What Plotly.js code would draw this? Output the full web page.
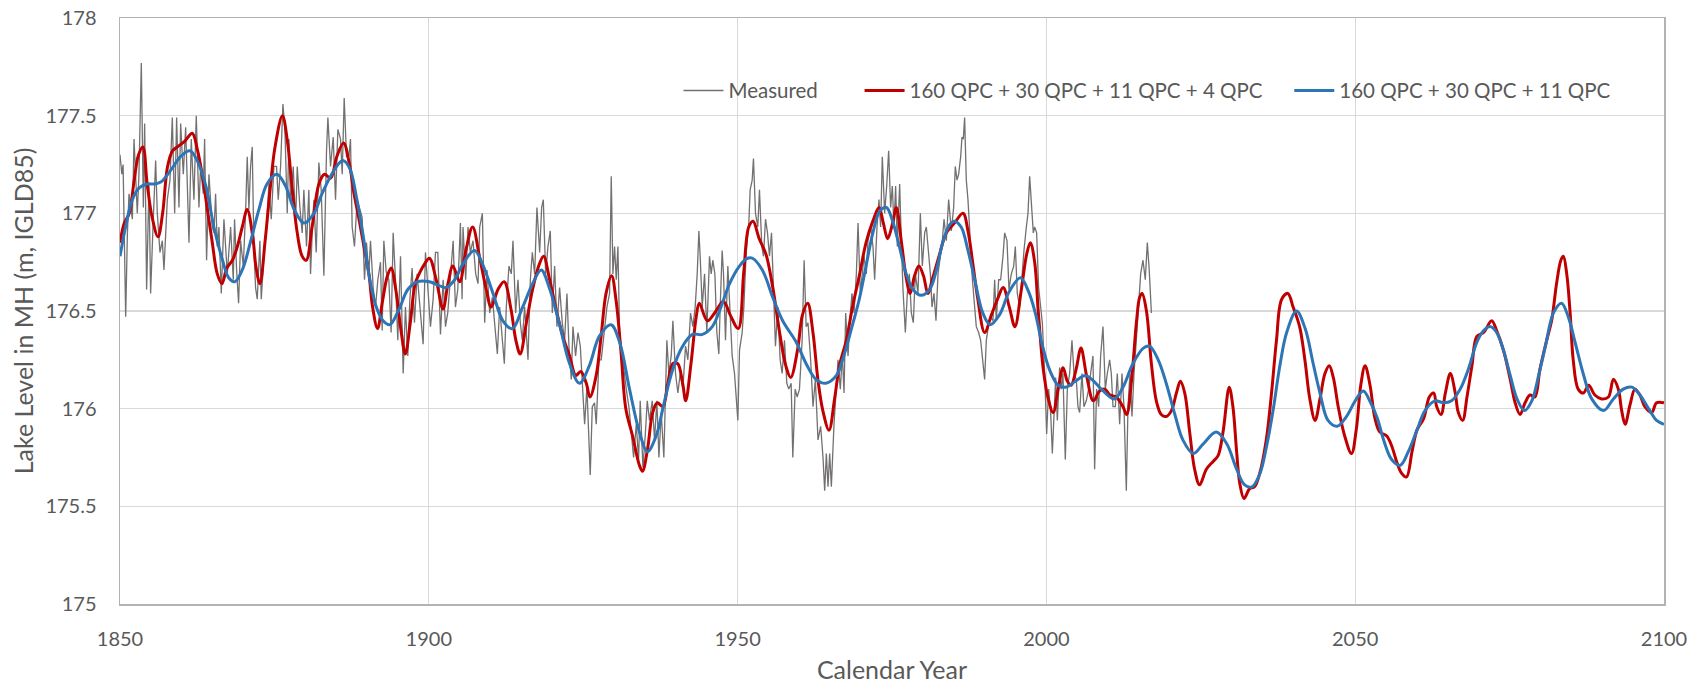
<!DOCTYPE html>
<html>
<head>
<meta charset="utf-8">
<script src="https://cdn.plot.ly/plotly-3.0.1.min.js"></script>
<style>html,body{margin:0;padding:0;background:#fff;}#chart{width:1704px;height:688px;}</style>
</head>
<body>
<div id="chart"></div>
<script>
// ---- Measured lake level (year, m IGLD85) ----
const measured1850 = [[1850.0,177.3],[1850.3,177.2],[1850.5,177.25],[1850.76,176.66],[1850.92,176.47],[1851.2,176.9],[1851.46,177.1],[1852.0,176.97],[1852.27,177.38],[1852.8,177.0],[1853.07,177.2],[1853.45,177.77],[1853.78,177.03],[1853.99,177.46],[1854.31,176.61],[1854.69,177.15],[1854.96,176.59],[1855.34,176.93],[1855.77,177.27],[1856.04,177.0],[1856.47,176.8],[1856.85,176.86],[1857.12,176.71],[1857.66,177.07],[1858.09,177.17],[1858.47,177.49],[1858.85,177.0],[1859.17,177.49],[1859.55,177.03],[1859.82,177.46],[1860.25,177.2],[1860.63,177.44],[1860.9,177.14],[1861.17,176.85],[1861.54,177.38],[1861.97,177.07],[1862.35,177.5],[1862.78,177.03],[1863.05,177.24],[1863.48,177.1],[1863.7,177.38],[1864.02,176.76],[1864.4,177.2],[1864.94,176.93],[1865.21,176.9],[1865.48,177.1],[1865.75,176.83],[1866.02,176.93],[1866.4,176.59],[1866.83,176.97],[1867.37,176.69],[1867.91,176.93],[1868.34,176.66],[1868.55,176.97],[1868.88,176.71],[1869.2,176.54],[1869.53,176.86],[1869.96,176.73],[1870.33,177.0],[1870.6,177.29],[1870.87,177.02],[1871.14,177.24],[1871.41,177.34],[1871.68,176.83],[1871.95,176.62],[1872.22,176.56],[1872.65,176.86],[1872.87,176.56],[1873.3,176.78],[1873.73,176.93],[1874.11,177.15],[1874.49,176.97],[1874.92,177.24],[1875.35,177.24],[1875.62,177.07],[1876.0,177.24],[1876.38,177.56],[1876.7,177.43],[1877.08,177.0],[1877.35,177.38],[1877.62,177.05],[1878.05,177.24],[1878.43,176.95],[1878.7,177.24],[1879.13,177.03],[1879.5,176.9],[1879.77,177.12],[1880.2,176.83],[1880.58,177.12],[1880.85,176.69],[1881.12,176.9],[1881.39,177.07],[1881.77,176.8],[1882.2,177.26],[1882.58,177.12],[1883.01,176.68],[1883.44,177.32],[1883.66,177.49],[1884.09,177.24],[1884.52,177.39],[1884.9,177.07],[1885.28,177.43],[1885.71,177.38],[1885.98,177.2],[1886.3,177.59],[1886.68,177.29],[1887.06,177.29],[1887.32,177.38],[1887.59,176.93],[1887.97,176.83],[1888.4,177.07],[1888.83,177.02],[1889.21,176.98],[1889.59,176.66],[1889.91,176.85],[1890.29,176.69],[1890.56,176.86],[1890.99,176.62],[1891.37,176.52],[1891.75,176.66],[1892.18,176.75],[1892.45,176.4],[1892.72,176.86],[1893.1,176.7],[1893.53,176.66],[1893.9,176.39],[1894.23,176.9],[1894.61,176.66],[1894.98,176.35],[1895.42,176.78],[1895.85,176.18],[1896.22,176.52],[1896.6,176.27],[1896.93,176.56],[1897.3,176.72],[1897.68,176.44],[1898.11,176.69],[1898.65,176.49],[1899.08,176.33],[1899.46,176.8],[1900.0,176.52],[1900.27,176.42],[1900.7,176.56],[1901.08,176.8],[1901.46,176.8],[1901.89,176.38],[1902.32,176.66],[1902.7,176.42],[1903.07,176.49],[1903.5,176.69],[1903.94,176.86],[1904.31,176.52],[1904.69,176.61],[1905.12,176.95],[1905.39,176.56]];
const measured1905 = [[1905.54,176.93],[1905.97,176.66],[1906.35,176.93],[1906.73,176.8],[1907.16,176.86],[1907.59,176.69],[1907.97,176.64],[1908.24,176.93],[1908.67,177.0],[1909.05,176.44],[1909.42,176.71],[1909.86,176.49],[1910.29,176.57],[1910.66,176.45],[1911.1,176.28],[1911.47,176.52],[1911.9,176.35],[1912.23,176.23],[1912.55,176.52],[1912.98,176.73],[1913.36,176.69],[1913.63,176.86],[1914.06,176.49],[1914.44,176.66],[1914.82,176.44],[1915.14,176.35],[1915.52,176.52],[1916.06,176.25],[1916.44,176.66],[1916.76,176.8],[1917.14,176.69],[1917.51,177.03],[1917.95,176.8],[1918.27,177.03],[1918.54,177.07],[1918.92,176.69],[1919.29,176.83],[1919.67,176.91],[1920.0,176.49],[1920.37,176.73],[1920.75,176.42],[1921.18,176.62],[1921.61,176.44],[1921.99,176.35],[1922.37,176.59],[1922.69,176.32],[1923.07,176.15],[1923.34,176.42],[1923.77,176.27],[1924.15,176.39],[1924.53,176.32],[1924.85,176.11],[1925.23,175.92],[1925.6,176.11],[1925.93,175.84],[1926.14,175.66],[1926.47,176.01],[1926.84,176.03],[1927.11,175.92],[1927.55,176.25],[1927.92,176.25],[1928.46,176.39],[1928.84,176.52],[1929.27,176.59],[1929.54,177.19],[1929.81,176.69],[1930.08,176.83],[1930.35,176.66],[1930.62,176.83],[1930.89,176.39],[1931.32,176.27],[1931.7,176.18],[1931.97,176.1],[1932.4,176.01],[1932.78,175.87],[1933.16,175.75],[1933.59,175.92],[1933.97,175.74],[1934.23,176.04],[1934.67,175.7],[1935.04,175.86],[1935.37,176.04],[1935.74,175.94],[1936.18,176.04],[1936.55,175.84],[1936.93,176.04],[1937.26,175.75],[1937.63,175.98],[1938.06,175.75],[1938.33,176.18],[1938.55,176.35],[1938.87,176.18],[1939.25,176.27],[1939.52,176.45],[1939.95,176.18],[1940.33,176.08],[1940.71,176.18],[1941.14,176.1],[1941.57,176.32],[1941.95,176.25],[1942.38,176.49],[1942.76,176.42],[1943.13,176.52],[1943.46,176.69],[1943.73,176.91],[1943.94,176.78],[1944.27,176.52],[1944.65,176.69],[1945.02,176.39],[1945.45,176.78],[1945.72,176.69],[1945.99,176.76],[1946.32,176.69],[1946.64,176.39],[1946.96,176.28],[1947.18,176.52],[1947.5,176.81],[1947.72,176.69],[1948.04,176.35],[1948.42,176.73],[1948.69,176.52],[1949.12,176.27],[1949.5,176.18],[1949.77,176.04],[1950.04,175.94],[1950.31,176.3],[1950.74,176.39],[1951.01,176.52],[1951.39,176.8],[1951.82,176.95],[1952.03,177.12],[1952.36,177.17],[1952.57,177.28],[1952.9,177.0],[1953.27,176.93],[1953.54,177.12],[1953.92,176.83],[1954.19,176.78],[1954.52,176.97],[1954.84,176.9],[1955.16,176.78],[1955.49,176.9],[1955.81,176.62],[1956.13,176.32],[1956.51,176.52],[1956.89,176.25],[1957.21,176.18],[1957.59,176.35],[1957.97,176.13],[1958.29,176.1],[1958.67,176.13],[1958.94,175.75],[1959.32,176.1],[1959.64,176.06],[1960.02,176.1],[1960.45,176.35],[1960.77,176.76],[1961.1,176.42]];
const measured1961 = [[1961.4,176.44],[1961.83,176.25],[1962.21,176.01],[1962.59,176.15],[1963.02,175.84],[1963.45,175.91],[1963.83,175.75],[1964.1,175.58],[1964.37,175.77],[1964.64,175.6],[1964.91,175.77],[1965.18,175.6],[1965.61,175.92],[1965.99,176.1],[1966.26,176.25],[1966.63,176.1],[1966.96,176.28],[1967.23,176.08],[1967.5,176.49],[1967.88,176.27],[1968.15,176.44],[1968.52,176.59],[1968.85,176.49],[1969.23,176.69],[1969.5,176.95],[1969.87,176.59],[1970.14,176.69],[1970.47,176.78],[1970.84,176.69],[1971.11,176.86],[1971.55,176.93],[1971.92,176.83],[1972.19,176.66],[1972.57,176.93],[1972.89,177.07],[1973.16,176.93],[1973.43,177.29],[1973.81,177.0],[1974.14,177.14],[1974.46,177.32],[1974.78,177.03],[1975.05,177.14],[1975.32,176.93],[1975.59,177.14],[1975.86,176.83],[1976.24,177.15],[1976.51,176.86],[1976.78,176.61],[1977.16,176.39],[1977.48,176.59],[1977.81,176.69],[1978.13,176.49],[1978.45,176.44],[1978.78,176.69],[1979.21,176.59],[1979.59,177.0],[1979.91,176.73],[1980.29,176.9],[1980.56,176.93],[1980.83,176.83],[1981.21,176.69],[1981.48,176.52],[1981.8,176.59],[1982.12,176.45],[1982.45,176.69],[1982.82,176.78],[1983.15,176.86],[1983.42,176.97],[1983.8,176.86],[1984.17,177.07],[1984.61,176.91],[1984.98,177.03],[1985.25,177.24],[1985.52,177.17],[1985.79,177.2],[1986.12,177.29],[1986.33,177.39],[1986.55,177.38],[1986.76,177.49],[1987.03,177.17],[1987.3,177.07],[1987.68,176.86],[1987.95,176.69],[1988.28,176.56],[1988.65,176.42],[1989.03,176.39],[1989.35,176.35],[1989.68,176.25],[1990.0,176.15],[1990.27,176.35],[1990.6,176.42],[1990.97,176.47],[1991.35,176.45],[1991.62,176.66],[1991.89,176.45],[1992.27,176.66],[1992.59,176.66],[1992.97,176.78],[1993.24,176.9],[1993.62,176.86],[1993.94,176.61],[1994.32,176.69],[1994.7,176.73],[1994.97,176.83],[1995.29,176.59],[1995.67,176.52],[1996.05,176.69],[1996.37,176.81],[1996.75,176.93],[1997.02,177.0],[1997.29,177.19],[1997.56,177.03],[1997.88,176.9],[1998.1,176.93],[1998.42,176.9],[1998.74,176.62],[1999.01,176.52],[1999.34,176.44],[1999.72,176.18],[2000.04,175.87],[2000.36,176.1],[2000.69,175.98],[2000.96,175.77],[2001.23,176.01],[2001.5,176.16],[2001.77,175.94],[2002.14,176.21],[2002.41,176.1],[2002.68,176.18],[2003.06,175.74],[2003.39,176.1],[2003.76,176.18],[2004.14,176.35],[2004.47,176.18],[2004.84,176.15],[2005.11,176.01],[2005.38,175.98],[2005.76,176.18],[2006.08,176.01],[2006.46,176.04],[2006.84,176.1],[2007.16,176.18],[2007.54,176.27],[2007.81,175.69],[2008.13,176.1],[2008.46,176.01],[2008.78,176.27],[2009.16,176.42],[2009.54,176.1],[2009.86,176.18],[2010.24,176.25],[2010.51,176.18],[2010.78,176.01],[2011.16,176.01],[2011.48,176.18],[2011.86,175.92],[2012.24,176.18],[2012.56,176.01],[2012.94,175.58],[2013.21,176.01],[2013.53,176.18],[2013.86,175.96],[2014.18,176.18],[2014.56,176.35],[2014.93,176.52],[2015.26,176.69],[2015.64,176.76],[2016.01,176.66],[2016.34,176.85],[2016.63,176.72],[2017.0,176.49]];

// ---- 160 QPC + 30 QPC + 11 QPC + 4 QPC (year, m) ----
const fourPeriod = [[1850.0,176.85],[1850.7,176.95],[1851.5,177.0],[1852.3,177.17],[1853.0,177.3],[1853.7,177.34],[1854.4,177.15],[1855.2,176.98],[1856.15,176.88],[1856.9,177.0],[1857.7,177.24],[1858.5,177.32],[1859.3,177.34],[1860.5,177.37],[1861.7,177.41],[1862.5,177.33],[1863.3,177.2],[1864.1,177.03],[1864.9,176.86],[1865.75,176.69],[1866.5,176.64],[1867.3,176.72],[1868.2,176.76],[1869.0,176.83],[1869.8,176.93],[1870.6,177.02],[1871.5,176.88],[1872.0,176.73],[1872.65,176.64],[1873.5,176.86],[1874.3,177.12],[1875.1,177.34],[1876.3,177.5],[1877.1,177.37],[1877.9,177.12],[1878.7,176.9],[1879.5,176.78],[1880.15,176.76],[1881.1,176.93],[1882.2,177.15],[1883.1,177.2],[1884.1,177.18],[1885.1,177.29],[1886.2,177.36],[1887.1,177.26],[1887.9,177.1],[1888.7,176.97],[1889.5,176.83],[1890.3,176.69],[1890.9,176.52],[1891.7,176.41],[1892.5,176.55],[1893.3,176.68],[1893.9,176.72],[1894.7,176.6],[1895.5,176.4],[1896.2,176.28],[1897.0,176.44],[1897.8,176.64],[1898.6,176.7],[1899.3,176.74],[1900.1,176.77],[1901.2,176.66],[1902.3,176.51],[1903.1,176.64],[1903.9,176.73],[1905.0,176.65],[1906.0,176.81],[1907.1,176.93],[1908.2,176.78],[1909.3,176.61],[1910.1,176.52],[1911.2,176.61],[1912.2,176.65],[1913.3,176.51],[1914.1,176.35],[1914.8,176.28],[1915.8,176.44],[1916.8,176.61],[1917.9,176.74],[1918.6,176.78],[1919.5,176.67],[1920.6,176.51],[1921.7,176.37],[1922.8,176.27],[1923.8,176.17],[1924.6,176.19],[1925.5,176.13],[1926.1,176.06],[1927.1,176.17],[1927.9,176.37],[1928.7,176.59],[1929.6,176.68],[1930.3,176.56],[1931.1,176.3],[1931.9,176.0],[1933.0,175.86],[1934.1,175.71],[1934.6,175.68],[1935.4,175.79],[1936.25,175.98],[1937.0,176.03],[1937.9,176.01],[1938.7,176.13],[1939.5,176.23],[1940.3,176.23],[1941.1,176.13],[1941.6,176.04],[1942.45,176.23],[1943.3,176.47],[1943.8,176.54],[1945.1,176.45],[1946.5,176.5],[1947.7,176.55],[1948.8,176.48],[1950.1,176.41],[1951.0,176.7],[1951.8,176.93],[1952.5,176.96],[1953.5,176.87],[1954.6,176.79],[1955.7,176.62],[1956.8,176.39],[1957.8,176.22],[1958.6,176.16],[1959.7,176.3],[1960.5,176.48],[1961.35,176.54],[1962.2,176.39],[1963.0,176.15],[1963.8,175.99],[1964.8,175.89],[1965.7,176.05],[1966.5,176.22],[1967.6,176.35],[1968.6,176.52],[1969.7,176.68],[1970.8,176.85],[1971.9,176.96],[1972.9,177.03],[1973.6,176.95],[1974.3,176.87],[1975.1,176.95],[1975.7,177.03],[1976.5,176.86],[1977.3,176.67],[1977.95,176.59],[1978.65,176.68],[1979.35,176.73],[1980.1,176.68],[1980.8,176.59],[1981.6,176.67],[1982.7,176.79],[1983.8,176.9],[1985.1,176.95],[1986.5,177.0],[1987.3,176.91],[1988.1,176.74],[1988.9,176.56],[1990.0,176.39],[1991.1,176.48],[1992.2,176.57],[1993.0,176.62],[1994.0,176.52],[1994.9,176.42],[1995.9,176.6],[1996.8,176.79],[1997.4,176.85],[1998.1,176.75],[1998.7,176.49],[1999.5,176.2],[2000.3,176.05],[2001.1,175.98],[2001.9,176.1],[2002.7,176.21],[2003.4,176.14],[2004.0,176.12],[2004.8,176.2],[2005.6,176.31],[2006.5,176.17],[2007.6,176.04],[2008.6,176.09],[2009.45,176.1],[2010.3,176.07],[2011.3,176.06],[2012.4,176.01],[2013.0,175.97],[2013.8,176.15],[2014.6,176.45],[2015.1,176.57],[2015.5,176.59],[2016.2,176.5],[2017.0,176.23],[2017.8,176.04],[2018.6,175.97],[2019.4,175.96],[2020.25,175.99],[2021.05,176.08],[2021.7,176.14],[2022.4,176.08],[2023.2,175.88],[2024.0,175.69],[2024.8,175.61],[2025.9,175.69],[2027.0,175.73],[2027.8,175.76],[2028.6,175.88],[2029.6,176.11],[2030.2,176.01],[2030.8,175.78],[2031.3,175.62],[2032.0,175.54],[2032.9,175.59],[2033.7,175.6],[2034.55,175.67],[2035.6,175.84],[2036.45,176.08],[2037.25,176.35],[2038.1,176.56],[2039.1,176.59],[2039.95,176.52],[2041.0,176.42],[2041.85,176.25],[2042.65,176.05],[2043.5,175.94],[2044.3,176.05],[2045.1,176.18],[2045.8,176.22],[2046.45,176.16],[2047.25,176.01],[2048.3,175.86],[2049.4,175.77],[2050.2,175.9],[2050.9,176.12],[2051.6,176.22],[2052.4,176.12],[2053.2,175.95],[2054.0,175.88],[2055.1,175.86],[2055.9,175.81],[2056.7,175.73],[2057.5,175.67],[2058.3,175.65],[2059.2,175.78],[2060.0,175.89],[2061.1,175.95],[2062.0,176.06],[2062.7,176.08],[2063.2,176.01],[2063.9,175.97],[2064.6,176.08],[2065.4,176.18],[2066.2,176.08],[2066.7,175.98],[2067.4,175.94],[2068.1,176.06],[2068.9,176.22],[2069.7,176.37],[2070.8,176.39],[2072.1,176.45],[2072.9,176.4],[2074.0,176.3],[2075.1,176.15],[2075.9,176.03],[2076.7,175.97],[2077.5,176.03],[2078.3,176.07],[2079.1,176.06],[2079.9,176.2],[2081.0,176.35],[2081.8,176.45],[2082.6,176.64],[2083.3,176.76],[2083.7,176.78],[2084.25,176.69],[2084.8,176.49],[2085.3,176.25],[2086.1,176.1],[2086.95,176.08],[2087.8,176.12],[2088.8,176.07],[2089.9,176.05],[2091.0,176.06],[2091.8,176.15],[2092.6,176.1],[2093.15,175.99],[2093.7,175.92],[2094.5,176.02],[2095.3,176.1],[2096.1,176.07],[2096.9,176.01],[2098.0,175.98],[2098.8,176.03],[2100.0,176.03]];

// ---- 160 QPC + 30 QPC + 11 QPC (year, m) ----
const threePeriod = [[1850.0,176.78],[1850.9,176.93],[1852.0,177.07],[1853.1,177.13],[1854.4,177.15],[1855.5,177.15],[1856.6,177.16],[1858.2,177.22],[1859.8,177.29],[1861.3,177.32],[1862.5,177.27],[1863.9,177.14],[1865.2,176.93],[1866.6,176.76],[1867.6,176.67],[1868.6,176.65],[1869.8,176.71],[1871.1,176.85],[1872.5,177.02],[1873.8,177.15],[1875.4,177.2],[1876.8,177.14],[1878.2,177.02],[1879.8,176.95],[1881.4,177.0],[1882.7,177.1],[1884.1,177.19],[1885.3,177.25],[1886.1,177.27],[1887.2,177.23],[1888.3,177.08],[1889.4,176.88],[1890.4,176.67],[1891.5,176.52],[1892.6,176.45],[1893.7,176.43],[1895.2,176.51],[1896.6,176.61],[1898.2,176.65],[1900.1,176.65],[1901.7,176.63],[1902.8,176.62],[1904.2,176.66],[1905.5,176.74],[1907.4,176.81],[1908.7,176.74],[1910.4,176.59],[1912.0,176.45],[1913.5,176.41],[1915.2,176.52],[1916.8,176.64],[1918.2,176.71],[1919.5,176.62],[1921.1,176.44],[1922.8,176.23],[1924.4,176.13],[1926.0,176.22],[1927.6,176.37],[1929.5,176.43],[1930.9,176.34],[1932.5,176.1],[1934.1,175.88],[1935.4,175.78],[1936.8,175.86],[1938.1,176.03],[1939.5,176.2],[1941.1,176.32],[1942.7,176.38],[1944.3,176.38],[1945.9,176.42],[1947.3,176.52],[1948.7,176.64],[1950.3,176.73],[1951.6,176.77],[1952.4,176.77],[1954.0,176.71],[1955.7,176.57],[1957.3,176.45],[1959.5,176.34],[1961.1,176.23],[1962.7,176.15],[1964.3,176.13],[1966.0,176.17],[1967.0,176.25],[1968.7,176.44],[1969.7,176.56],[1970.8,176.73],[1971.9,176.9],[1973.0,177.01],[1974.1,177.03],[1975.1,176.96],[1976.2,176.83],[1977.3,176.69],[1978.4,176.61],[1979.7,176.58],[1981.1,176.61],[1982.2,176.71],[1983.2,176.85],[1984.3,176.94],[1985.1,176.96],[1986.2,176.93],[1987.3,176.81],[1988.4,176.66],[1989.7,176.49],[1990.9,176.43],[1992.4,176.48],[1994.0,176.6],[1995.8,176.67],[1997.1,176.6],[1998.2,176.49],[1999.3,176.33],[2000.5,176.2],[2001.9,176.12],[2003.1,176.11],[2004.7,176.14],[2006.3,176.17],[2007.7,176.14],[2008.9,176.1],[2011.0,176.05],[2012.4,176.11],[2014.0,176.23],[2015.7,176.31],[2016.7,176.32],[2018.1,176.25],[2019.4,176.13],[2020.8,175.97],[2022.1,175.84],[2023.8,175.77],[2025.4,175.82],[2027.5,175.88],[2029.2,175.82],[2030.8,175.69],[2032.1,175.61],[2033.3,175.6],[2034.6,175.67],[2035.6,175.8],[2036.7,175.99],[2037.8,176.22],[2038.9,176.39],[2040.5,176.5],[2041.9,176.41],[2043.2,176.23],[2044.3,176.08],[2045.6,175.94],[2047.1,175.91],[2048.6,175.96],[2050.0,176.04],[2051.3,176.09],[2052.5,176.03],[2053.6,175.95],[2054.6,175.84],[2055.9,175.74],[2057.3,175.71],[2058.6,175.78],[2060.0,175.89],[2061.3,175.99],[2062.9,176.04],[2064.3,176.03],[2065.6,176.04],[2067.0,176.1],[2068.3,176.2],[2069.7,176.34],[2070.8,176.4],[2071.9,176.42],[2072.9,176.39],[2074.0,176.3],[2075.1,176.17],[2076.2,176.05],[2077.4,175.99],[2078.6,176.04],[2079.7,176.17],[2080.8,176.32],[2082.1,176.49],[2083.4,176.54],[2084.5,176.47],[2085.6,176.34],[2087.0,176.17],[2088.3,176.05],[2090.2,175.99],[2091.8,176.05],[2093.4,176.1],[2094.8,176.11],[2096.1,176.07],[2097.5,176.0],[2098.8,175.94],[2100.0,175.92]];

const seriesNames = ['Measured', '160 QPC + 30 QPC + 11 QPC + 4 QPC', '160 QPC + 30 QPC + 11 QPC'];
const xTickVals = [1850, 1900, 1950, 2000, 2050, 2100];
const yTickVals = [175, 175.5, 176, 176.5, 177, 177.5, 178];

const measured = measured1850.concat(measured1905, measured1961);
const FONT = 'Lato, "Open Sans", sans-serif';
const TXT = '#595959';

const traces = [
  {x: measured.map(p => p[0]), y: measured.map(p => p[1]), name: seriesNames[0], type: 'scatter', mode: 'lines',
   line: {color: '#737070', width: 1.3}, legend: 'legend'},
  {x: fourPeriod.map(p => p[0]), y: fourPeriod.map(p => p[1]), name: seriesNames[1], type: 'scatter', mode: 'lines',
   line: {color: '#c00000', width: 3, shape: 'spline', smoothing: 1}, legend: 'legend2'},
  {x: threePeriod.map(p => p[0]), y: threePeriod.map(p => p[1]), name: seriesNames[2], type: 'scatter', mode: 'lines',
   line: {color: '#2e75b6', width: 3, shape: 'spline', smoothing: 1}, legend: 'legend3'}
];

const legendBase = {orientation: 'h', yanchor: 'middle', y: 0.876, xanchor: 'left', bgcolor: 'rgba(0,0,0,0)',
  font: {family: FONT, size: 20.5, color: TXT}, itemwidth: 40};

const layout = {
  width: 1704, height: 688,
  margin: {l: 120, r: 40, t: 17.5, b: 83.5},
  paper_bgcolor: '#ffffff', plot_bgcolor: '#ffffff',
  font: {family: FONT, color: TXT},
  showlegend: true,
  legend: Object.assign({}, legendBase, {x: 0.3617}),
  legend2: Object.assign({}, legendBase, {x: 0.479}),
  legend3: Object.assign({}, legendBase, {x: 0.7573}),
  xaxis: {range: [1850, 2100], tickvals: xTickVals, ticktext: xTickVals.map(String),
    showgrid: true, gridcolor: '#d9d9d9', gridwidth: 1.3, zeroline: false,
    showline: true, linecolor: '#b3b3b3', linewidth: 1.5, mirror: true, ticks: '',
    tickfont: {family: FONT, size: 20, color: TXT}, ticklabelstandoff: 16,
    title: {text: 'Calendar Year', font: {family: FONT, size: 25, color: TXT}, standoff: 13}},
  yaxis: {range: [175, 178], tickvals: yTickVals, ticktext: yTickVals.map(String),
    showgrid: true, gridcolor: '#d9d9d9', gridwidth: 1.3, zeroline: false,
    showline: true, linecolor: '#b3b3b3', linewidth: 1.5, mirror: true, ticks: '',
    tickfont: {family: FONT, size: 20, color: TXT}, ticklabelstandoff: 18,
    title: {text: 'Lake Level in MH (m, IGLD85)', font: {family: FONT, size: 25, color: TXT}, standoff: 4}}
};

Plotly.newPlot('chart', traces, layout, {staticPlot: true, displayModeBar: false});
</script>
</body>
</html>
